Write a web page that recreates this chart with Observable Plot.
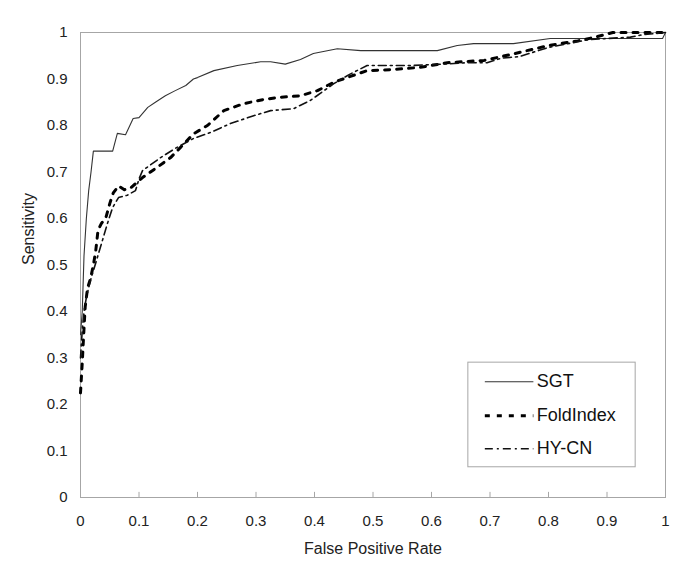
<!DOCTYPE html>
<html>
<head>
<meta charset="utf-8">
<script src="https://cdn.jsdelivr.net/npm/d3@7"></script>
<script src="https://cdn.jsdelivr.net/npm/@observablehq/plot@0.6"></script>
<style>
  html, body { margin: 0; padding: 0; background: #fff; }
  #chart { width: 685px; height: 578px; }
  svg { font-family: "Liberation Sans", Arial, sans-serif; }
</style>
</head>
<body>
<div id="chart"></div>
<script>
// ---- data ----
const seriesNames = ["SGT", "FoldIndex", "HY-CN"];

const sgtX = [0, 0.003, 0.006, 0.01, 0.014, 0.018, 0.022, 0.04, 0.055, 0.063, 0.077, 0.09, 0.1, 0.115, 0.128, 0.145, 0.162, 0.18, 0.193, 0.2, 0.228, 0.268, 0.308, 0.325, 0.35, 0.376, 0.398, 0.439, 0.479, 0.55, 0.61, 0.644, 0.672, 0.74, 0.803, 0.9, 0.995, 1.0];
const sgtY = [0.35, 0.40, 0.52, 0.60, 0.66, 0.70, 0.745, 0.745, 0.745, 0.783, 0.78, 0.815, 0.817, 0.839, 0.85, 0.864, 0.875, 0.886, 0.90, 0.903, 0.918, 0.929, 0.937, 0.937, 0.932, 0.942, 0.955, 0.965, 0.961, 0.961, 0.961, 0.972, 0.976, 0.976, 0.987, 0.987, 0.987, 1.0];

const foldX = [0, 0.003, 0.005, 0.008, 0.012, 0.017, 0.022, 0.026, 0.03, 0.036, 0.043, 0.05, 0.056, 0.065, 0.075, 0.085, 0.106, 0.131, 0.154, 0.171, 0.193, 0.217, 0.245, 0.279, 0.313, 0.336, 0.376, 0.405, 0.433, 0.46, 0.49, 0.53, 0.58, 0.627, 0.69, 0.74, 0.8, 0.85, 0.88, 0.91, 0.95, 1.0];
const foldY = [0.225, 0.29, 0.34, 0.41, 0.45, 0.47, 0.50, 0.53, 0.575, 0.59, 0.60, 0.632, 0.655, 0.67, 0.662, 0.665, 0.688, 0.71, 0.731, 0.753, 0.782, 0.80, 0.832, 0.847, 0.856, 0.86, 0.864, 0.875, 0.893, 0.905, 0.918, 0.92, 0.925, 0.935, 0.94, 0.954, 0.972, 0.982, 0.99, 1.0, 1.0, 1.0];

const hyX = [0, 0.003, 0.006, 0.01, 0.017, 0.025, 0.034, 0.046, 0.055, 0.065, 0.08, 0.094, 0.1, 0.106, 0.137, 0.165, 0.193, 0.222, 0.256, 0.296, 0.325, 0.364, 0.393, 0.433, 0.46, 0.49, 0.564, 0.62, 0.66, 0.695, 0.72, 0.75, 0.8, 0.85, 0.87, 0.94, 0.96, 1.0];
const hyY = [0.30, 0.36, 0.40, 0.43, 0.467, 0.50, 0.538, 0.589, 0.624, 0.645, 0.65, 0.66, 0.685, 0.703, 0.731, 0.753, 0.772, 0.785, 0.804, 0.821, 0.832, 0.836, 0.854, 0.89, 0.91, 0.929, 0.929, 0.932, 0.935, 0.935, 0.945, 0.948, 0.968, 0.98, 0.985, 0.99, 0.995, 1.0];

const xTicks = [0, 0.1, 0.2, 0.3, 0.4, 0.5, 0.6, 0.7, 0.8, 0.9, 1];
const yTicks = [0, 0.1, 0.2, 0.3, 0.4, 0.5, 0.6, 0.7, 0.8, 0.9, 1];

// ---- build table ----
const raw = {SGT: [sgtX, sgtY], FoldIndex: [foldX, foldY], "HY-CN": [hyX, hyY]};
const rows = [];
for (const name of seriesNames) {
  const [xs, ys] = raw[name];
  xs.forEach((x, i) => rows.push({series: name, x, y: ys[i]}));
}

const styles = {
  "SGT":       {stroke: "#333", strokeWidth: 1.1, strokeDasharray: null},
  "FoldIndex": {stroke: "#000", strokeWidth: 3, strokeDasharray: "5,7"},
  "HY-CN":     {stroke: "#111", strokeWidth: 1.6, strokeDasharray: "8,4,2,4"}
};

const lineMarks = seriesNames.map(name => Plot.line(rows.filter(r => r.series === name), {
  x: "x", y: "y", curve: "linear",
  stroke: styles[name].stroke,
  strokeWidth: styles[name].strokeWidth,
  strokeDasharray: styles[name].strokeDasharray
}));

// legend (placed inside plot area)
const legBox = {x1: 0.663, x2: 0.949, y1: 0.065, y2: 0.29};
const legY = [0.249, 0.176, 0.105];
const legendItems = seriesNames.map((name, i) => ({name, y: legY[i]}));
const legendLines = legendItems.map(d => Plot.ruleY([d], {
  y: "y", x1: () => 0.692, x2: () => 0.775,
  stroke: styles[d.name].stroke,
  strokeWidth: styles[d.name].strokeWidth,
  strokeDasharray: styles[d.name].strokeDasharray
}));

const chart = Plot.plot({
  width: 685,
  height: 578,
  marginLeft: 80,
  marginRight: 20,
  marginTop: 32,
  marginBottom: 81,
  style: {fontFamily: "Liberation Sans, Arial, sans-serif", background: "#fff", color: "#222"},
  x: {domain: [0, 1]},
  y: {domain: [0, 1]},
  marks: [
    Plot.frame({stroke: "#a6a6a6", strokeWidth: 1}),
    Plot.ruleX(xTicks.slice(1, -1), {x: d => d, y1: 0, y2: 0.011, stroke: "#a6a6a6"}),
    Plot.axisX({ticks: xTicks, tickSize: 0, tickPadding: 18, fontSize: 15, label: null, tickFormat: d => String(d), fill: "#222"}),
    Plot.axisY({ticks: yTicks, tickSize: 0, tickPadding: 13, fontSize: 15, label: null, tickFormat: d => String(d), fill: "#222"}),
    Plot.text(["False Positive Rate"], {frameAnchor: "bottom", dy: 56, fontSize: 16, fill: "#222"}),
    Plot.text(["Sensitivity"], {frameAnchor: "left", dx: -52, rotate: -90, fontSize: 16, fill: "#222"}),
    ...lineMarks,
    Plot.rect([legBox], {x1: "x1", x2: "x2", y1: "y1", y2: "y2", fill: "#fff", stroke: "#a6a6a6"}),
    ...legendLines,
    Plot.text(legendItems, {x: () => 0.78, y: "y", text: "name", textAnchor: "start", fontSize: 18, fill: "#111"})
  ]
});
document.getElementById("chart").appendChild(chart);
</script>
</body>
</html>
